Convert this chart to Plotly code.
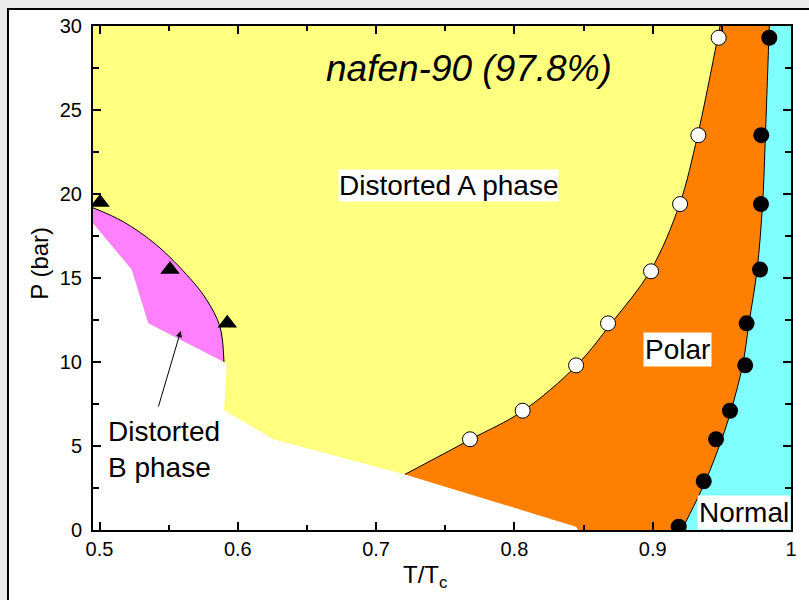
import plotly.graph_objects as go

# --- phase boundaries (T/Tc, P in bar) ---
# Distorted A / Polar boundary (fit through open circles)
polar_T = [0.7209, 0.768, 0.806, 0.845, 0.870, 0.8985, 0.9195, 0.9325, 0.9470, 0.9487]
polar_P = [3.31, 5.38, 7.08, 9.8, 12.3, 15.45, 19.4, 23.5, 29.3, 30.0]

# Polar / Normal boundary (fit through filled circles)
normal_T = [0.921, 0.9381, 0.9499, 0.9566, 0.965, 0.9696, 0.9755, 0.9795, 0.9815, 0.984, 0.9843]
normal_P = [0.0, 2.9, 5.4, 7.1, 9.8, 12.3, 15.5, 19.5, 23.5, 29.3, 30.0]

# Distorted A / Distorted B boundary (fit through triangles)
ab_T = [0.4953, 0.5172, 0.5413, 0.5654, 0.5775, 0.5871, 0.590]
ab_P = [19.18, 18.35, 16.96, 14.98, 13.7, 12.1, 10.0]

# lower edge of the Distorted B region
b_low_T = [0.4953, 0.5233, 0.5353, 0.590]
b_low_P = [18.26, 15.5, 12.3, 10.0]

# lower edge of the Distorted A region
a_low_T = [0.590, 0.592, 0.590, 0.6257, 0.7209]
a_low_P = [10.0, 9.82, 7.14, 5.40, 3.31]

# lower edge of the Polar region
polar_low_T = [0.7209, 0.8445, 0.846]
polar_low_P = [3.31, 0.2, 0.0]

# --- measured points ---
circle_T = [0.7679, 0.806, 0.8446, 0.8677, 0.8988, 0.9198, 0.933, 0.9477]
circle_P = [5.4, 7.1, 9.8, 12.3, 15.4, 19.4, 23.5, 29.3]
dot_T = [0.9188, 0.9369, 0.9458, 0.9559, 0.9669, 0.9679, 0.9776, 0.9783, 0.9785, 0.9843]
dot_P = [0.2, 2.9, 5.4, 7.1, 9.8, 12.3, 15.5, 19.4, 23.5, 29.3]
tri_T = [0.5004, 0.551, 0.5924]
tri_P = [19.5, 15.5, 12.3]

x_ticks = [0.5, 0.6, 0.7, 0.8, 0.9, 1.0]
x_tick_text = ["0.5", "0.6", "0.7", "0.8", "0.9", "1"]
y_ticks = [0, 5, 10, 15, 20, 25, 30]

X_MIN, X_MAX = 0.4953, 1.0
Y_MIN, Y_MAX = 0.0, 30.0

YELLOW = "#FFFF80"
ORANGE = "#FF8000"
CYAN = "#80FFFF"
PINK = "#FF80FF"

fig = go.Figure()


def polygon(xs, ys, color):
    fig.add_trace(go.Scatter(x=xs, y=ys, mode="lines", fill="toself",
                             fillcolor=color, line=dict(width=0, color=color),
                             hoverinfo="skip", showlegend=False))


def curved_region(base_x, base_y, edge_x, edge_y, color):
    """Area enclosed by a straight-edged base path and a smooth edge curve
    sharing both end points."""
    fig.add_trace(go.Scatter(x=base_x, y=base_y, mode="lines",
                             line=dict(width=0, color=color),
                             hoverinfo="skip", showlegend=False))
    fig.add_trace(go.Scatter(x=edge_x, y=edge_y, mode="lines", fill="tonext",
                             fillcolor=color,
                             line=dict(width=0, color=color, shape="spline"),
                             hoverinfo="skip", showlegend=False))


# Polar region (left part is covered by the Distorted A region)
polygon(polar_low_T + [X_MAX, X_MAX, 0.90],
        polar_low_P + [Y_MIN, Y_MAX, Y_MAX], ORANGE)

# Distorted A region
base_x = a_low_T[::-1] + b_low_T[::-1] + [X_MIN, polar_T[-1]]
base_y = a_low_P[::-1] + b_low_P[::-1] + [Y_MAX, Y_MAX]
curved_region(base_x, base_y, polar_T, polar_P, YELLOW)

# Distorted B region
curved_region([ab_T[0]] + b_low_T, [ab_P[0]] + b_low_P, ab_T, ab_P, PINK)

# Normal region
curved_region([normal_T[0], X_MAX, X_MAX, normal_T[-1]],
              [Y_MIN, Y_MIN, Y_MAX, Y_MAX], normal_T, normal_P, CYAN)

# boundary lines
for xs, ys in [(polar_T, polar_P), (normal_T, normal_P), (ab_T, ab_P)]:
    fig.add_trace(go.Scatter(x=xs, y=ys, mode="lines",
                             line=dict(color="black", width=1, shape="spline"),
                             hoverinfo="skip", showlegend=False))

# markers
fig.add_trace(go.Scatter(x=circle_T, y=circle_P, mode="markers",
                         marker=dict(symbol="circle", size=15, color="white",
                                     line=dict(color="black", width=1)),
                         showlegend=False))
fig.add_trace(go.Scatter(x=dot_T, y=dot_P, mode="markers",
                         marker=dict(symbol="circle", size=16, color="black",
                                     line=dict(color="black", width=0)),
                         showlegend=False))
fig.add_trace(go.Scatter(x=tri_T, y=tri_P, mode="markers",
                         marker=dict(symbol="triangle-up", size=17, color="black",
                                     line=dict(color="black", width=0)),
                         showlegend=False))

FONT = "Liberation Sans, Arial, sans-serif"

annotations = [
    dict(x=0.767, y=27.5, text="<i>nafen-90 (97.8%)</i>", showarrow=False,
         font=dict(family=FONT, size=37, color="black")),
    dict(x=0.752, y=20.48, text="Distorted A phase", showarrow=False,
         bgcolor="white", borderpad=0,
         font=dict(family=FONT, size=28, color="black")),
    dict(x=0.9176, y=10.77, text="Polar", showarrow=False,
         bgcolor="white", borderpad=1,
         font=dict(family=FONT, size=28, color="black")),
    dict(x=1.0, y=1.07, xanchor="right", text="Normal", showarrow=False,
         bgcolor="white", borderpad=1,
         font=dict(family=FONT, size=28, color="black")),
    dict(x=0.5047, y=4.82, xanchor="left", yanchor="middle", align="left",
         text="Distorted<br>B phase", showarrow=False,
         font=dict(family=FONT, size=28, color="black")),
    # arrow pointing into the Distorted B region
    dict(x=0.5587, y=11.84, ax=0.5423, ay=7.26, axref="x", ayref="y",
         text="", showarrow=True, arrowhead=2, arrowsize=1.2, arrowwidth=1,
         arrowcolor="black"),
    # axis titles
    dict(x=-0.076, y=0.53, xref="paper", yref="paper", text="P (bar)",
         xanchor="center", yanchor="middle",
         textangle=-90, showarrow=False,
         font=dict(family=FONT, size=24, color="black")),
    dict(x=0.475, y=-0.093, xref="paper", yref="paper",
         xanchor="center", yanchor="middle",
         text="T/T<sub>c</sub>", showarrow=False,
         font=dict(family=FONT, size=24, color="black")),
]

fig.update_layout(
    width=809, height=600,
    margin=dict(l=93, r=18, t=26, b=70),
    paper_bgcolor="#EBEBEB",
    plot_bgcolor="white",
    annotations=annotations,
    shapes=[dict(type="rect", xref="paper", yref="paper", layer="below",
                 x0=-0.1218, x1=1.04, y0=-0.16, y1=1.0337,
                 fillcolor="white", line=dict(color="black", width=2))],
)

axis_common = dict(
    showgrid=False, zeroline=False, showline=True, linecolor="black",
    linewidth=2, mirror="ticks", ticks="inside", tickcolor="black",
    tickwidth=1.5, ticklen=8,
    tickfont=dict(family=FONT, size=20, color="black"),
)

fig.update_xaxes(range=[X_MIN, X_MAX], tickvals=x_ticks, ticktext=x_tick_text,
                 minor=dict(dtick=0.05, tick0=0.5, ticks="inside", ticklen=5,
                            tickcolor="black", tickwidth=1.5),
                 **axis_common)
fig.update_yaxes(range=[Y_MIN, Y_MAX], tickvals=y_ticks, ticklabelstandoff=5,
                 minor=dict(dtick=2.5, tick0=0, ticks="inside", ticklen=6,
                            tickcolor="black", tickwidth=1.5),
                 **axis_common)

fig.write_html("out.html")
